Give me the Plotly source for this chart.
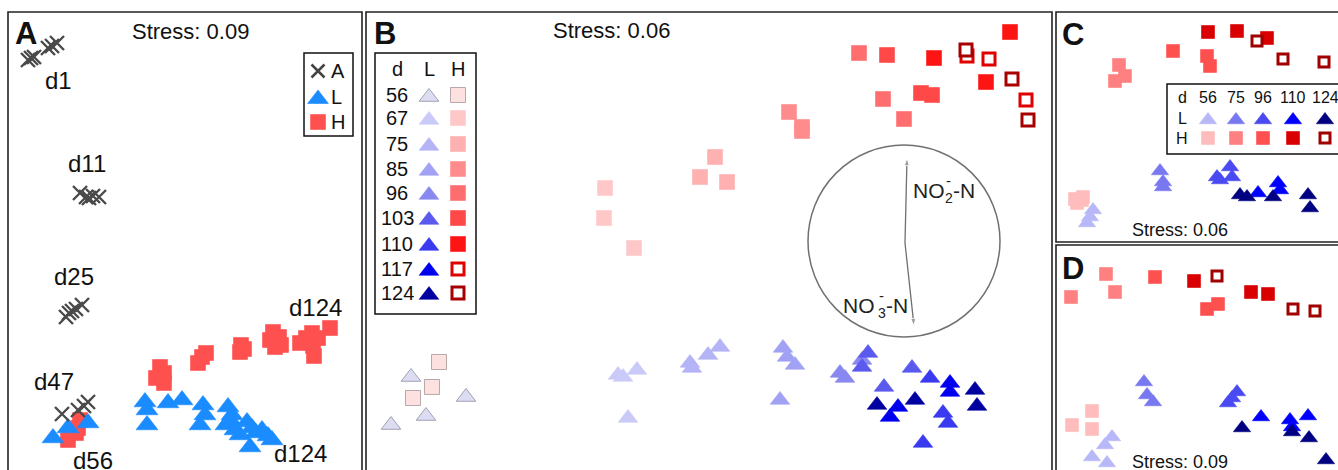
import plotly.graph_objects as go

W, H = 1338, 470
FONT = "Liberation Sans, Arial, sans-serif"

# ---------------- Panel A data (NMDS ordination) ----------------
A_cross_x = [28, 31, 34, 48, 52, 57, 80, 86, 89, 93, 99, 66, 69, 72, 76, 82, 62, 78, 84, 88]
A_cross_y = [60, 58, 57, 48, 46, 43, 193, 197, 198, 196, 197, 317, 313, 311, 309, 305, 414, 410, 406, 402]
A_L_x = [53, 68, 88, 145, 147, 147, 168, 182, 203, 205, 200, 228, 232, 226, 235, 247, 252, 256, 250, 262, 268, 272, 240, 230]
A_L_y = [438, 428, 423, 402, 410, 425, 403, 400, 405, 415, 425, 407, 415, 425, 430, 422, 428, 433, 447, 430, 436, 440, 435, 420]
A_H_x = [68, 76, 80, 78, 160, 156, 164, 164, 202, 198, 206, 241, 240, 244, 270, 275, 281, 279, 273, 306, 313, 314, 318, 330, 312, 300]
A_H_y = [440, 433, 420, 428, 367, 378, 383, 373, 357, 363, 353, 345, 352, 349, 340, 347, 345, 337, 332, 338, 346, 356, 338, 328, 333, 343]
A_labels = ["d1", "d11", "d25", "d47", "d56", "d124", "d124"]
A_label_x = [58, 87, 74, 54, 93, 315, 300]
A_label_y = [80, 163, 276, 381, 460, 307, 453]

# ---------------- Panel B data ----------------
B_days = ["56", "67", "75", "85", "96", "103", "110", "117", "124"]
B_L56 = [(411, 377), (466, 397), (426, 416), (391, 425)]
B_L67 = [(618, 375), (623, 377), (637, 370), (628, 418)]
B_L75 = [(690, 363), (692, 368), (708, 355), (720, 347)]
B_L85 = [(783, 348), (787, 357), (795, 365), (780, 400)]
B_L96 = [(840, 373), (845, 378), (862, 360)]
B_L103 = [(868, 353), (862, 367), (884, 387), (912, 368)]
B_L110 = [(930, 378), (943, 413), (948, 423), (923, 443)]
B_L117 = [(950, 383), (950, 392), (898, 407), (890, 417)]
B_L124 = [(877, 405), (915, 400), (975, 390), (977, 406)]
B_H56 = [(439, 362), (432, 387), (413, 398)]
B_H67 = [(605, 188), (604, 218), (634, 248)]
B_H75 = [(715, 157), (727, 182), (700, 177)]
B_H85 = [(789, 112), (802, 127), (802, 131)]
B_H96 = [(859, 53), (883, 99), (904, 119)]
B_H103 = [(887, 55), (921, 93), (932, 95)]
B_H110 = [(934, 58), (1010, 32), (986, 82)]
B_H117 = [(989, 59), (1026, 100), (967, 56)]
B_H124 = [(966, 50), (1012, 79), (1028, 120)]
B_L_colors = ["#dcdcf2", "#cacaf8", "#b4b4f6", "#a2a2f4", "#8888f0", "#5a5aee", "#3a3af0", "#0000f0", "#0000a0"]
B_H_colors = ["#fde0e0", "#ffc8c8", "#ffb0b0", "#ff8c8c", "#ff6e6e", "#ff4848", "#ff1414", "#e00000", "#a80000"]
B_legend_y = [95, 118, 144, 169, 193, 218, 244, 269, 293]
# environmental vectors (tail -> head)
B_vec_tail = (905, 243)
B_vec_heads = [(907, 158), (914, 326)]

# ---------------- Panel C data ----------------
CD_days = ["56", "75", "96", "110", "124"]
CD_L_colors = ["#b8b8f8", "#7878f0", "#4a4af2", "#0000ff", "#000080"]
CD_H_colors = ["#ffbcbc", "#ff8080", "#ff5050", "#d80000", "#a00000"]
C_L56 = [(1093, 210), (1090, 217), (1087, 223)]
C_L75 = [(1160, 171), (1163, 182), (1163, 187)]
C_L96 = [(1217, 177), (1230, 167), (1232, 177), (1220, 180)]
C_L110 = [(1258, 193), (1278, 183), (1280, 190)]
C_L124 = [(1240, 195), (1247, 197), (1273, 197), (1308, 195), (1310, 208)]
C_H56 = [(1075, 199), (1082, 200), (1077, 203), (1083, 197)]
C_H75 = [(1119, 65), (1125, 76), (1115, 81)]
C_H96 = [(1173, 51), (1207, 56), (1210, 66)]
C_H110 = [(1208, 32), (1237, 31), (1267, 38)]
C_H124 = [(1257, 41), (1283, 59), (1324, 62)]
C_legend_x = [1208, 1236, 1263, 1293, 1325]

# ---------------- Panel D data ----------------
D_L56 = [(1112, 437), (1105, 445), (1092, 457), (1107, 463)]
D_L75 = [(1144, 382), (1147, 395), (1153, 402)]
D_L96 = [(1237, 392), (1232, 398), (1228, 403)]
D_L110 = [(1261, 417), (1290, 420), (1292, 427), (1308, 416)]
D_L124 = [(1242, 428), (1292, 432), (1309, 438), (1326, 460)]
D_H56 = [(1092, 411), (1072, 425), (1092, 429)]
D_H75 = [(1071, 297), (1106, 274), (1115, 292)]
D_H96 = [(1155, 277), (1207, 309), (1218, 304)]
D_H110 = [(1194, 281), (1251, 292), (1268, 294)]
D_H124 = [(1217, 276), (1293, 309), (1315, 311)]

# ---------------- layout helpers ----------------
PANELS = {"A": (8, 12, 362, 470), "B": (366, 12, 1052, 470),
          "C": (1056, 12, 1338, 242), "D": (1056, 245, 1338, 470)}
AX = {"A": ("x", "y"), "B": ("x2", "y2"), "C": ("x3", "y3"), "D": ("x4", "y4")}

fig = go.Figure()
layout = dict(width=W, height=H, margin=dict(l=0, r=0, t=0, b=0),
              paper_bgcolor="white", plot_bgcolor="rgba(0,0,0,0)", showlegend=False)
for i, (k, (l, t, r, b)) in enumerate(PANELS.items()):
    sfx = "" if i == 0 else str(i + 1)
    layout["xaxis" + sfx] = dict(domain=[l / W, r / W], range=[l, r], visible=False,
                                 fixedrange=True, anchor="y" + sfx)
    layout["yaxis" + sfx] = dict(domain=[1 - b / H, 1 - t / H], range=[b, t], visible=False,
                                 fixedrange=True, anchor="x" + sfx)
fig.update_layout(**layout)

shapes = []
annotations = []


def border(l, t, r, b):
    shapes.append(dict(type="rect", xref="paper", yref="paper", x0=l / W, x1=r / W,
                       y0=1 - b / H, y1=1 - t / H, line=dict(color="#222", width=1.6)))


border(8, 12, 362, 500)
border(366, 12, 1052, 500)
border(1056, 12, 1400, 242)
border(1056, 245, 1400, 500)


def text(panel, x, y, s, size, bold=False, xanchor="center", color="#111"):
    xr, yr = AX[panel]
    annotations.append(dict(x=x, y=y, xref=xr, yref=yr, text=("<b>%s</b>" % s) if bold else s,
                            showarrow=False, xanchor=xanchor, yanchor="middle",
                            font=dict(family=FONT, size=size, color=color)))


def pts(panel, xs, ys, symbol, size, color, line_color=None, line_width=0.6):
    xr, yr = AX[panel]
    fig.add_trace(go.Scatter(x=xs, y=ys, xaxis=xr, yaxis=yr, mode="markers", hoverinfo="skip",
                             marker=dict(symbol=symbol, size=size, color=color,
                                         line=dict(color=line_color or color, width=line_width))))


def group(panel, pairs, kind, color, size, open_sq=False, outline=None):
    xs = [p[0] for p in pairs]
    ys = [p[1] for p in pairs]
    if kind == "L":
        pts(panel, xs, ys, "triangle-up", size, color, outline, 1 if outline else 0.6)
    elif open_sq:
        pts(panel, xs, ys, "square", size - 3, "white", color, 3)
    else:
        pts(panel, xs, ys, "square", size, color, outline, 1 if outline else 0.6)


# ---------------- Panel A ----------------
pts("A", A_H_x, A_H_y, "square", 15, "#ff5050")
pts("A", A_L_x, A_L_y, "triangle-up", 19, "#1a8cff")
pts("A", A_cross_x, A_cross_y, "x-thin", 14, "#4a4a4a", "#4a4a4a", 2.4)
for s, x, y in zip(A_labels, A_label_x, A_label_y):
    text("A", x, y, s, 24)
text("A", 26, 33, "A", 31, bold=True)
text("A", 190, 31, "Stress: 0.09", 22)
shapes.append(dict(type="rect", xref="x", yref="y", x0=304, x1=353, y0=53, y1=136,
                   line=dict(color="#111", width=1.5)))
pts("A", [318], [71], "x-thin", 13, "#444444", "#444444", 2.5)
pts("A", [318], [99], "triangle-up", 18, "#1a8cff")
pts("A", [318], [122], "square", 15, "#ff5050")
for s, y in zip(["A", "L", "H"], [71, 97, 122]):
    text("A", 329, y, s, 20, xanchor="left")

# ---------------- Panel B ----------------
B_L_groups = [B_L56, B_L67, B_L75, B_L85, B_L96, B_L103, B_L110, B_L117, B_L124]
B_H_groups = [B_H56, B_H67, B_H75, B_H85, B_H96, B_H103, B_H110, B_H117, B_H124]
for i, g in enumerate(B_H_groups):
    group("B", g, "H", B_H_colors[i], 15, open_sq=(i >= 7), outline="#b8a8a8" if i == 0 else None)
for i, g in enumerate(B_L_groups):
    group("B", g, "L", B_L_colors[i], 17, outline="#a0a0b4" if i == 0 else None)
text("B", 385, 33, "B", 31, bold=True)
text("B", 611, 30, "Stress: 0.06", 22)
shapes.append(dict(type="rect", xref="x2", yref="y2", x0=375, x1=476, y0=53, y1=314,
                   line=dict(color="#111", width=1.5)))
text("B", 397, 69, "d", 20)
text("B", 429, 69, "L", 20)
text("B", 458, 69, "H", 20)
for i, (d, y) in enumerate(zip(B_days, B_legend_y)):
    text("B", 397, y, d, 20)
    group("B", [(429, y + 2)], "L", B_L_colors[i], 17, outline="#a0a0b4" if i == 0 else None)
    group("B", [(458, y)], "H", B_H_colors[i], 15, open_sq=(i >= 7), outline="#b8a8a8" if i == 0 else None)
# environmental fit circle and vectors
shapes.append(dict(type="circle", xref="x2", yref="y2", x0=808, x1=1000, y0=145, y1=337,
                   line=dict(color="#707070", width=1.5)))
for hx, hy in B_vec_heads:
    fig.add_trace(go.Scatter(x=[B_vec_tail[0], hx], y=[B_vec_tail[1], hy], xaxis="x2", yaxis="y2",
                             mode="lines+markers", hoverinfo="skip",
                             line=dict(color="#707070", width=1.3),
                             marker=dict(symbol=["circle", "arrow"], size=[0, 8], angleref="previous",
                                         color="#707070")))
# vector labels with stacked sub/superscripts
text("B", 911, 190, "NO", 21, xanchor="left", color="#222")
text("B", 943, 198, "2", 14, xanchor="left", color="#222")
text("B", 944, 180, "-", 15, xanchor="left", color="#222")
text("B", 951, 190, "-N", 21, xanchor="left", color="#222")
text("B", 877, 305, "NO", 21, xanchor="right", color="#222")
text("B", 876, 313, "3", 14, xanchor="left", color="#222")
text("B", 877, 295, "-", 15, xanchor="left", color="#222")
text("B", 884, 305, "-N", 21, xanchor="left", color="#222")

# ---------------- Panel C ----------------
C_L_groups = [C_L56, C_L75, C_L96, C_L110, C_L124]
C_H_groups = [C_H56, C_H75, C_H96, C_H110, C_H124]
for i, g in enumerate(C_H_groups):
    group("C", g, "H", CD_H_colors[i], 13, open_sq=(i == 4))
for i, g in enumerate(C_L_groups):
    group("C", g, "L", CD_L_colors[i], 15)
text("C", 1073, 34, "C", 31, bold=True)
text("C", 1180, 230, "Stress: 0.06", 18)
shapes.append(dict(type="rect", xref="x3", yref="y3", x0=1167, x1=1360, y0=84, y1=154,
                   line=dict(color="#111", width=1.5)))
text("C", 1182, 97, "d", 16)
text("C", 1182, 118, "L", 16)
text("C", 1182, 138, "H", 16)
for i, (d, x) in enumerate(zip(CD_days, C_legend_x)):
    text("C", x, 97, d, 16)
    group("C", [(x, 120)], "L", CD_L_colors[i], 15)
    group("C", [(x, 138)], "H", CD_H_colors[i], 13, open_sq=(i == 4))

# ---------------- Panel D ----------------
D_L_groups = [D_L56, D_L75, D_L96, D_L110, D_L124]
D_H_groups = [D_H56, D_H75, D_H96, D_H110, D_H124]
for i, g in enumerate(D_H_groups):
    group("D", g, "H", CD_H_colors[i], 13, open_sq=(i == 4))
for i, g in enumerate(D_L_groups):
    group("D", g, "L", CD_L_colors[i], 15)
text("D", 1073, 268, "D", 31, bold=True)
text("D", 1180, 462, "Stress: 0.09", 18)

fig.update_layout(shapes=shapes, annotations=annotations)
fig.write_html("out.html", config={"displayModeBar": False},
               post_script="document.body.style.margin='0';")
